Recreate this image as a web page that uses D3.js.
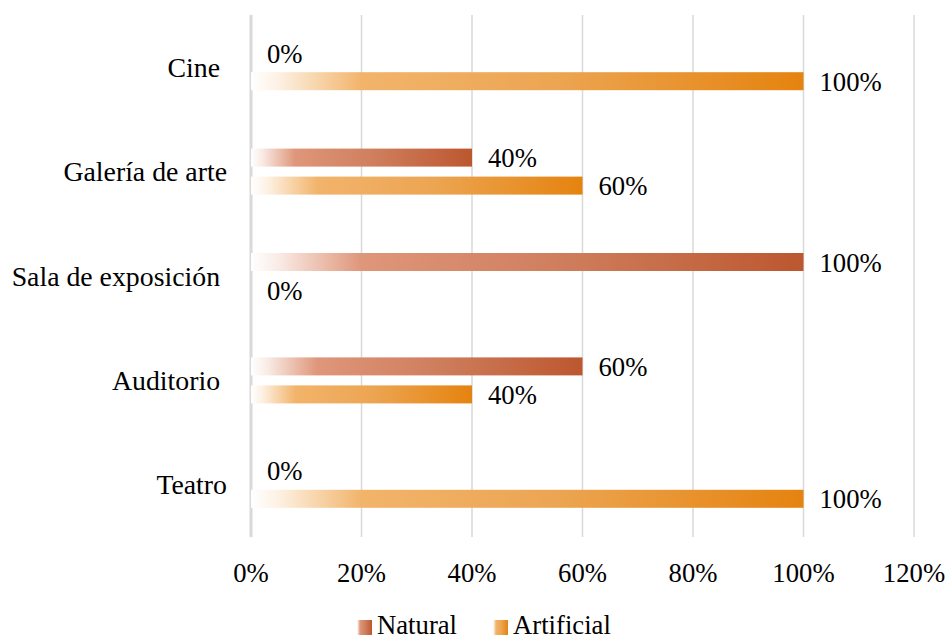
<!DOCTYPE html>
<html><head><meta charset="utf-8">
<script src="https://cdn.jsdelivr.net/npm/d3@7"></script>
<style>
body{margin:0;background:#fff;}
svg text{font-family:'Liberation Serif', Tinos, 'Times New Roman', 'DejaVu Serif', serif;font-size:26.7px;fill:#000;white-space:pre;}
svg text.cat{font-size:27.8px;}
</style></head>
<body>
<svg id="c" width="946" height="639"></svg>
<script>
const categories = ["Cine ", "Galería de arte", "Sala de exposición ", "Auditorio ", "Teatro"];
const naturalValues = [0, 40, 100, 60, 0];
const artificialValues = [100, 60, 0, 40, 100];
const xTicks = [0, 20, 40, 60, 80, 100, 120];
const seriesNames = ["Natural", "Artificial"];

const svg = d3.select("#c");
const x = d3.scaleLinear().domain([0, 120]).range([251, 914]);
const y = d3.scaleBand().domain(categories).range([15, 537]);

const defs = svg.append("defs");
const gradStops = {
  Natural: [[0, "#ffffff"], [0.05, "#f9ebe5"], [0.2, "#df967a"], [0.55, "#cf7f5e"], [1, "#bc572f"]],
  Artificial: [[0, "#ffffff"], [0.05, "#fdf1e3"], [0.2, "#f2b46b"], [0.55, "#eca552"], [1, "#e5830f"]]
};
seriesNames.forEach(s => {
  const g = defs.append("linearGradient").attr("id", "g" + s).attr("x1", 0).attr("x2", 1).attr("y1", 0).attr("y2", 0);
  gradStops[s].forEach(([o, c]) => g.append("stop").attr("offset", o).attr("stop-color", c));
});

// gridlines
svg.append("g").selectAll("line").data(xTicks.filter(d => d > 0)).join("line")
  .attr("x1", d => x(d)).attr("x2", d => x(d)).attr("y1", 15).attr("y2", 537)
  .attr("stroke", "#d9d9d9").attr("stroke-width", 1.5);
svg.append("line").attr("x1", x(0)).attr("x2", x(0)).attr("y1", 15).attr("y2", 537)
  .attr("stroke", "#d9d9d9").attr("stroke-width", 3);

// x tick labels
svg.append("g").selectAll("text").data(xTicks).join("text")
  .attr("x", d => x(d)).attr("y", 582).attr("text-anchor", "middle").text(d => d + "%");

// category labels
svg.append("g").selectAll("text").data(categories).join("text")
  .attr("class", "cat")
  .attr("x", 227).attr("y", d => y(d) + y.bandwidth() / 2 + 9.5).attr("text-anchor", "end").text(d => d);

const barH = 18, gap = 10;
const series = [
  {name: "Natural", values: naturalValues, off: -gap / 2 - barH},
  {name: "Artificial", values: artificialValues, off: gap / 2}
];
series.forEach(s => {
  const g = svg.append("g");
  categories.forEach((c, i) => {
    const v = s.values[i];
    const yc = y(c) + y.bandwidth() / 2 + s.off;
    if (v > 0) {
      g.append("rect").attr("x", x(0)).attr("y", yc).attr("width", x(v) - x(0)).attr("height", barH)
        .attr("fill", "url(#g" + s.name + ")");
    }
    g.append("text").attr("x", x(v) + 16).attr("y", yc + barH / 2 + 9.5).text(v + "%");
  });
});

// legend
const leg = svg.append("g");
const legItems = [{name: "Natural", sx: 357, tx: 377}, {name: "Artificial", sx: 493, tx: 513}];
legItems.forEach(l => {
  leg.append("rect").attr("x", l.sx).attr("y", 620).attr("width", 15).attr("height", 15).attr("fill", "url(#g" + l.name + ")");
  leg.append("text").attr("x", l.tx).attr("y", 634).text(l.name);
});
</script>
</body></html>
